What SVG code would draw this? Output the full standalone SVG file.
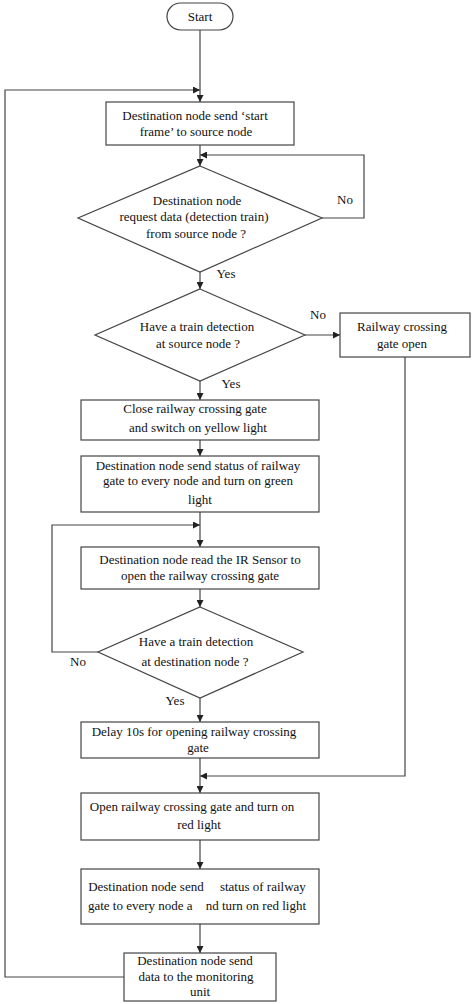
<svg xmlns="http://www.w3.org/2000/svg" width="474" height="1004" viewBox="0 0 474 1004">
<style>
.n{fill:#fff;stroke:#444;stroke-width:1.2}
.c{fill:none;stroke:#444;stroke-width:1.2}
text{font-family:"Liberation Serif","Times New Roman",serif;font-size:13px;fill:#111;text-anchor:middle;white-space:pre}
</style>
<defs>
<marker id="a" markerUnits="userSpaceOnUse" markerWidth="8" markerHeight="7" refX="7" refY="3.5" orient="auto">
<path d="M0,0 L7,3.5 L0,7 z" fill="#222"/>
</marker>
</defs>
<rect width="474" height="1004" fill="#fff"/>
<g id="connectors">
<path class="c" d="M200,30 V102" marker-end="url(#a)"/>
<path class="c" d="M124,977 H5 V90 H200" marker-end="url(#a)"/>
<path class="c" d="M200,145 V166" marker-end="url(#a)"/>
<path class="c" d="M322,218 H364 V155 H200" marker-end="url(#a)"/>
<path class="c" d="M200,272 V289" marker-end="url(#a)"/>
<path class="c" d="M305,335 H340" marker-end="url(#a)"/>
<path class="c" d="M405,357 V776 H200" marker-end="url(#a)"/>
<path class="c" d="M200,381 V400" marker-end="url(#a)"/>
<path class="c" d="M200,440 V456" marker-end="url(#a)"/>
<path class="c" d="M200,512 V547" marker-end="url(#a)"/>
<path class="c" d="M200,589 V607" marker-end="url(#a)"/>
<path class="c" d="M98,652 H52 V525 H200" marker-end="url(#a)"/>
<path class="c" d="M200,698 V722" marker-end="url(#a)"/>
<path class="c" d="M200,758 V793" marker-end="url(#a)"/>
<path class="c" d="M200,840 V869" marker-end="url(#a)"/>
<path class="c" d="M200,924 V953" marker-end="url(#a)"/>
<text x="345" y="204">No</text>
<text x="226" y="278">Yes</text>
<text x="318" y="319">No</text>
<text x="231" y="388">Yes</text>
<text x="78" y="666">No</text>
<text x="175" y="705">Yes</text>
</g>
<g id="start">
<rect class="n" x="167" y="3" width="66" height="27" rx="13.5"/>
<text x="200" y="21">Start</text>
</g>
<g id="send-start-frame">
<rect class="n" x="106" y="102" width="188" height="43"/>
<text x="195" y="120">Destination node send ‘start</text>
<text x="196" y="136">frame’ to source node</text>
</g>
<g id="request-data">
<polygon class="n" points="200,166 322,218 200,272 78,218"/>
<text x="197" y="205">Destination node</text>
<text x="194" y="221">request data (detection train)</text>
<text x="196" y="238">from source node ?</text>
</g>
<g id="train-at-source">
<polygon class="n" points="200,289 305,335 200,381 95,335"/>
<text x="197" y="331">Have a train detection</text>
<text x="198" y="348">at source node ?</text>
</g>
<g id="gate-open">
<rect class="n" x="340" y="313" width="130" height="44"/>
<text x="402" y="331">Railway crossing</text>
<text x="402" y="348">gate open</text>
</g>
<g id="close-gate">
<rect class="n" x="81" y="400" width="238" height="40"/>
<text x="195" y="413">Close railway crossing gate</text>
<text x="198" y="432">and switch on yellow light</text>
</g>
<g id="send-status-green">
<rect class="n" x="81" y="456" width="238" height="56"/>
<text x="198" y="470">Destination node send status of railway</text>
<text x="198" y="485">gate to every node and turn on green</text>
<text x="200" y="504">light</text>
</g>
<g id="read-ir">
<rect class="n" x="81" y="547" width="238" height="42"/>
<text x="200" y="564">Destination node read the IR Sensor to</text>
<text x="200" y="580">open the railway crossing gate</text>
</g>
<g id="train-at-destination">
<polygon class="n" points="200,607 303,652 200,698 98,652"/>
<text x="196" y="646">Have a train detection</text>
<text x="195" y="666">at destination node ?</text>
</g>
<g id="delay">
<rect class="n" x="81" y="722" width="238" height="36"/>
<text x="194" y="736">Delay 10s for opening railway crossing</text>
<text x="198" y="752">gate</text>
</g>
<g id="open-gate-red">
<rect class="n" x="81" y="793" width="238" height="47"/>
<text x="192" y="811">Open railway crossing gate and turn on</text>
<text x="199" y="829">red light</text>
</g>
<g id="send-status-red">
<rect class="n" x="81" y="869" width="238" height="55"/>
<text x="197" y="891">Destination node send     status of railway</text>
<text x="197" y="910">gate to every node a    nd turn on red light</text>
</g>
<g id="send-monitoring">
<rect class="n" x="124" y="953" width="152" height="48"/>
<text x="195" y="965">Destination node send</text>
<text x="196" y="981">data to the monitoring</text>
<text x="200" y="996">unit</text>
</g>
</svg>
